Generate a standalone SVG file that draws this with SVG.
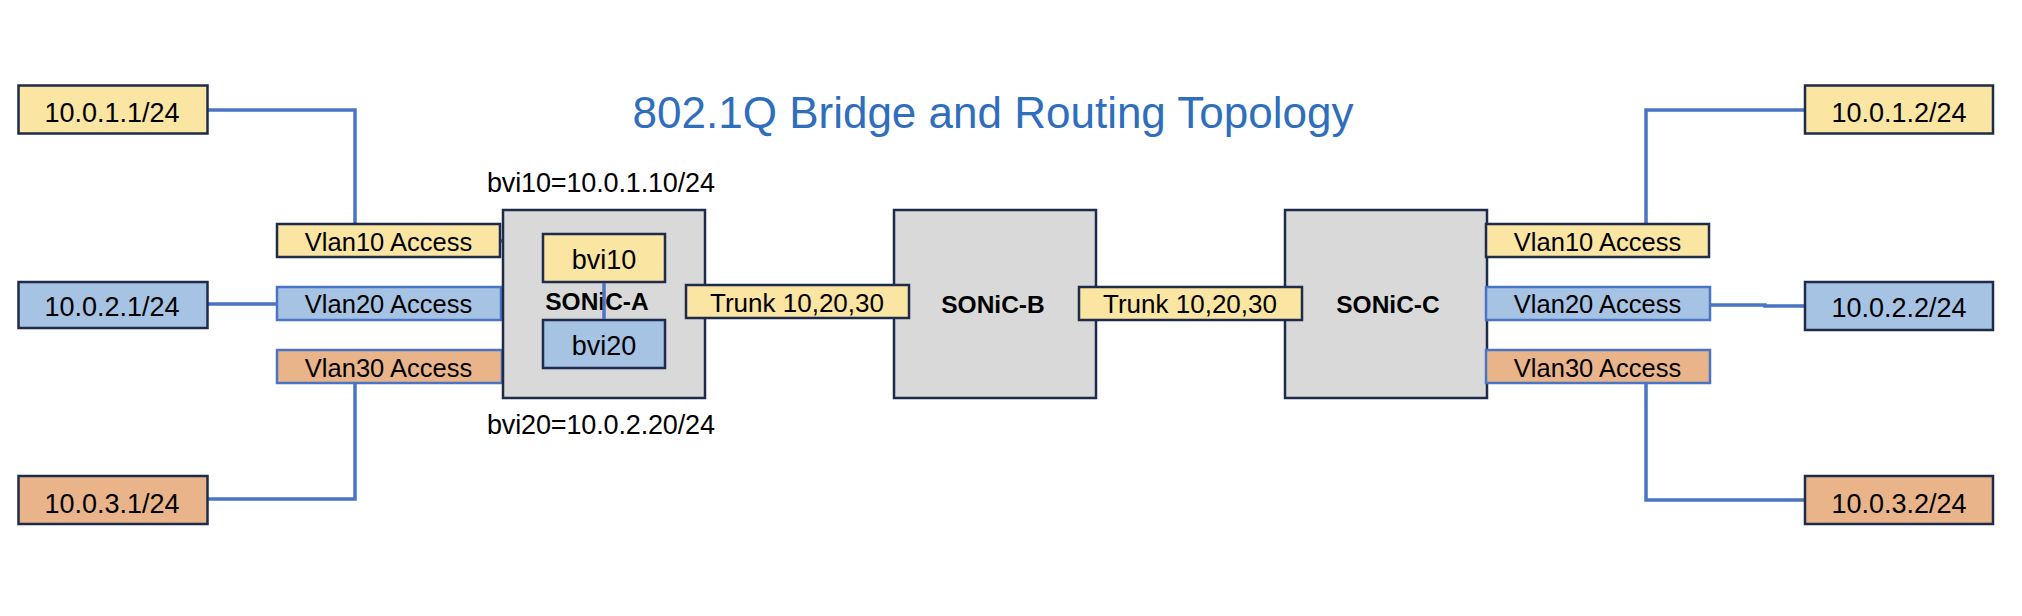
<svg xmlns="http://www.w3.org/2000/svg" width="2022" height="616" viewBox="0 0 2022 616">
<style>
  text { font-family: "Liberation Sans", Arial, sans-serif; fill: #000; text-anchor: middle; }
  .title { font-size: 44px; fill: #2E6EBD; }
  .lbl { font-size: 27px; }
  .vl { font-size: 25.5px; }
  .tr { font-size: 26px; }
  .sw { font-size: 24.5px; font-weight: bold; }
  .yel { fill: #FAE5A2; stroke: #1E2B4A; stroke-width: 2.5; }
  .blu { fill: #A6C3E4; stroke: #1E2B4A; stroke-width: 2.5; }
  .ora { fill: #E9B48A; stroke: #1E2B4A; stroke-width: 2.5; }
  .bluL { fill: #A6C3E4; stroke: #4A74C4; stroke-width: 2.5; }
  .oraL { fill: #E9B48A; stroke: #4A74C4; stroke-width: 2.5; }
  .sw-box { fill: #D9D9D9; stroke: #1E2B4A; stroke-width: 2.5; }
  .conn { fill: none; stroke: #4A74C4; stroke-width: 3.5; }
</style>
<rect width="2022" height="616" fill="#fff"/>
<text class="title" x="993" y="128">802.1Q Bridge and Routing Topology</text>

<g id="connectors">
  <polyline class="conn" points="207,110 355,110 355,224"/>
  <line class="conn" x1="207" y1="304" x2="277" y2="304"/>
  <polyline class="conn" points="207,499 355,499 355,383"/>
  <line class="conn" x1="500" y1="241" x2="504" y2="241"/>
  <line class="conn" x1="501" y1="304" x2="504" y2="304"/>
  <line class="conn" x1="604" y1="282" x2="604" y2="320"/>
  <polyline class="conn" points="1805,110 1646,110 1646,224"/>
  <polyline class="conn" points="1710,305 1765,305 1765,306 1805,306"/>
  <polyline class="conn" points="1805,500 1646,500 1646,383"/>
</g>

<g id="host-10-0-1-1">
  <rect class="yel" x="18.5" y="85.5" width="189" height="48"/>
  <text class="lbl" x="112" y="122">10.0.1.1/24</text>
</g>
<g id="host-10-0-2-1">
  <rect class="blu" x="18.5" y="282" width="189" height="46"/>
  <text class="lbl" x="112" y="316">10.0.2.1/24</text>
</g>
<g id="host-10-0-3-1">
  <rect class="ora" x="18.5" y="476" width="189" height="48"/>
  <text class="lbl" x="112" y="513">10.0.3.1/24</text>
</g>

<g id="a-vlan10">
  <rect class="yel" x="277" y="224" width="223" height="33"/>
  <text class="vl" x="388.5" y="251">Vlan10 Access</text>
</g>
<g id="a-vlan20">
  <rect class="bluL" x="277" y="287" width="224" height="33"/>
  <text class="vl" x="388.5" y="313">Vlan20 Access</text>
</g>
<g id="a-vlan30">
  <rect class="oraL" x="277" y="350" width="225" height="33"/>
  <text class="vl" x="388.5" y="377">Vlan30 Access</text>
</g>

<g id="sonic-a">
  <rect class="sw-box" x="503" y="210" width="202" height="188"/>
  <text class="sw" x="597" y="310">SONiC-A</text>
</g>
<g id="bvi10">
  <rect class="yel" x="543" y="234" width="122" height="48"/>
  <text class="lbl" x="604" y="269">bvi10</text>
</g>
<g id="bvi20">
  <rect class="blu" x="543" y="320" width="122" height="48"/>
  <text class="lbl" x="604" y="355">bvi20</text>
</g>
<line class="conn" x1="604" y1="283" x2="604" y2="319"/>
<g id="bvi10-label">
  <text class="lbl" x="601" y="192" textLength="228">bvi10=10.0.1.10/24</text>
</g>
<g id="bvi20-label">
  <text class="lbl" x="601" y="434" textLength="228">bvi20=10.0.2.20/24</text>
</g>

<g id="sonic-b">
  <rect class="sw-box" x="894" y="210" width="202" height="188"/>
  <text class="sw" x="993" y="313">SONiC-B</text>
</g>
<g id="trunk-ab">
  <rect class="yel" x="686" y="285" width="223" height="33"/>
  <text class="tr" x="797" y="312">Trunk 10,20,30</text>
</g>

<g id="sonic-c">
  <rect class="sw-box" x="1285" y="210" width="202" height="188"/>
  <text class="sw" x="1388" y="313">SONiC-C</text>
</g>
<g id="trunk-bc">
  <rect class="yel" x="1079" y="287" width="223" height="33"/>
  <text class="tr" x="1190" y="313">Trunk 10,20,30</text>
</g>

<g id="c-vlan10">
  <rect class="yel" x="1486" y="224" width="223" height="33"/>
  <text class="vl" x="1597.5" y="251">Vlan10 Access</text>
</g>
<g id="c-vlan20">
  <rect class="bluL" x="1486" y="287" width="224" height="33"/>
  <text class="vl" x="1597.5" y="313">Vlan20 Access</text>
</g>
<g id="c-vlan30">
  <rect class="oraL" x="1486" y="350" width="224" height="33"/>
  <text class="vl" x="1597.5" y="377">Vlan30 Access</text>
</g>

<g id="host-10-0-1-2">
  <rect class="yel" x="1805" y="85.5" width="188" height="48"/>
  <text class="lbl" x="1899" y="122">10.0.1.2/24</text>
</g>
<g id="host-10-0-2-2">
  <rect class="blu" x="1805" y="282" width="188" height="48"/>
  <text class="lbl" x="1899" y="317">10.0.2.2/24</text>
</g>
<g id="host-10-0-3-2">
  <rect class="ora" x="1805" y="476" width="188" height="48"/>
  <text class="lbl" x="1899" y="513">10.0.3.2/24</text>
</g>
</svg>
